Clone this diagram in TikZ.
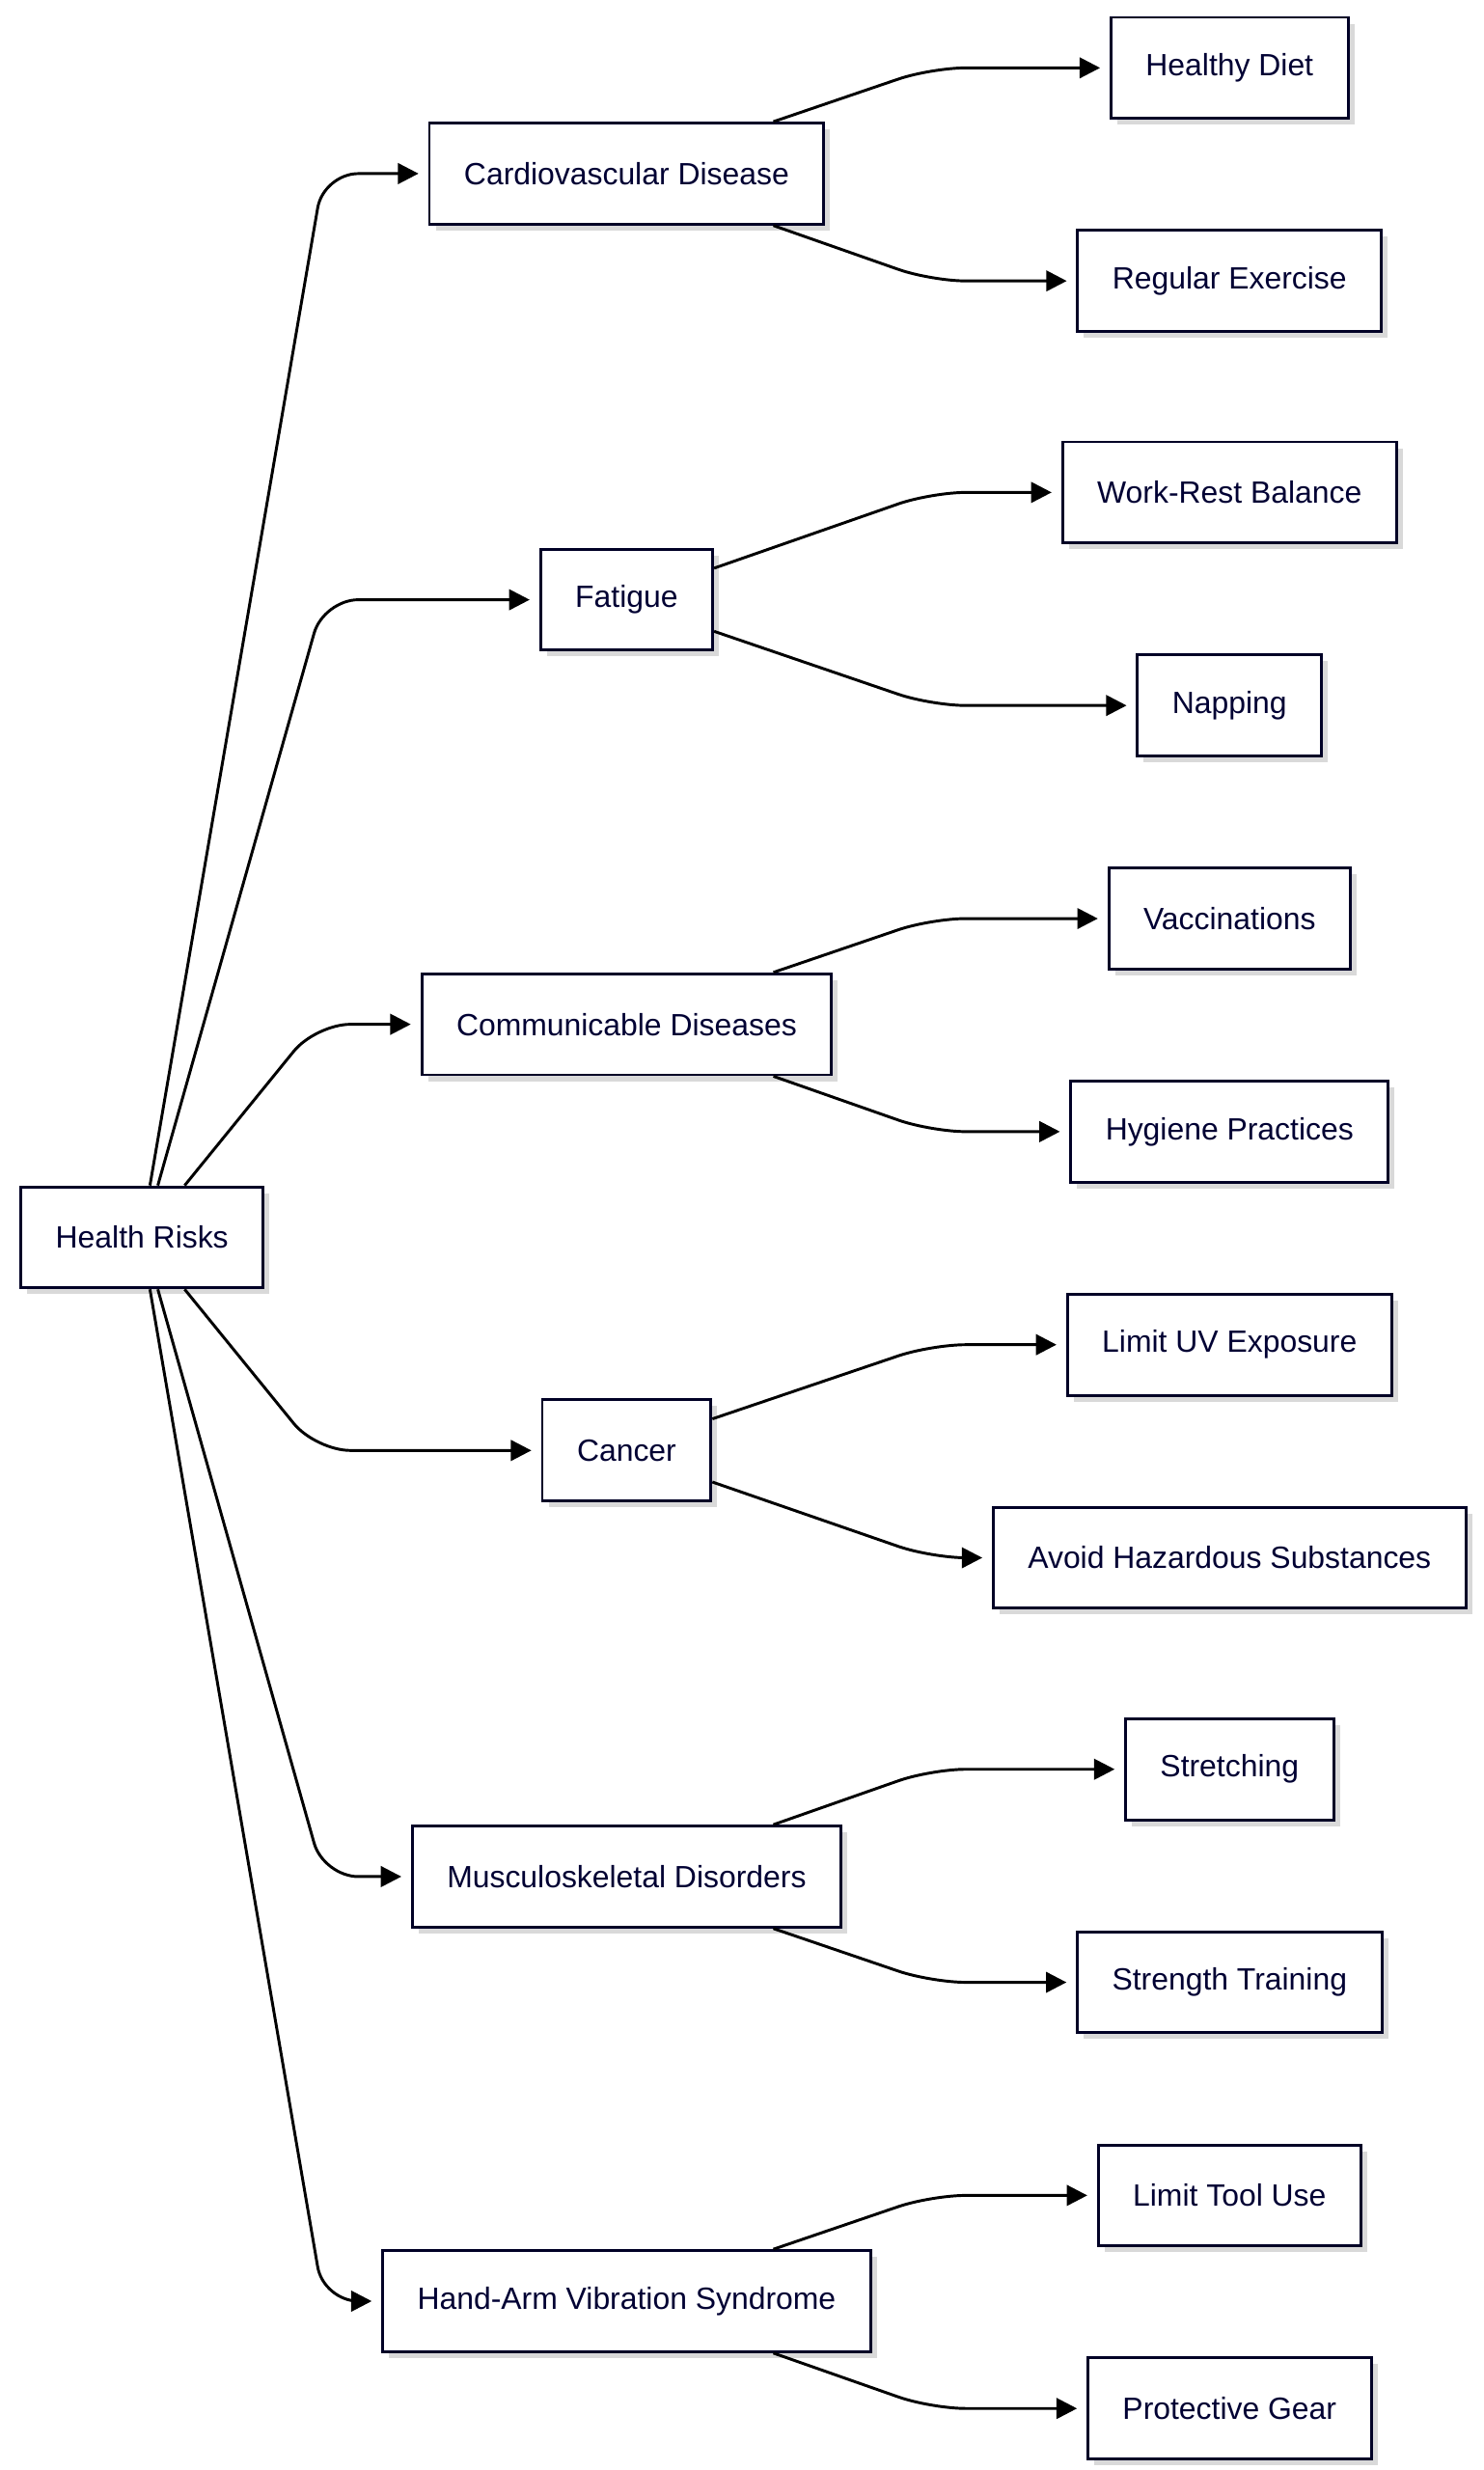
\documentclass[tikz,border=0pt]{standalone}
\usepackage{fontspec}
\setmainfont{Liberation Sans}
\usetikzlibrary{shadows,arrows.meta}
\tikzset{every picture/.style={line width=1.8pt}}
\tikzset{
  box/.style={draw=black!85!blue, fill=white, minimum height=64, inner xsep=22,
    font=\fontsize{19.5}{23}\selectfont, text=black!80!blue,
    drop shadow={shadow xshift=4pt, shadow yshift=-4pt, fill=black!15, opacity=1}},
  link/.style={-{Triangle[length=13pt,width=13pt]}, rounded corners=22pt}
}
\begin{document}
\begin{tikzpicture}[x=1pt,y=1pt,yscale=-1,xscale=1]
\useasboundingbox (0,0) rectangle (940,1565);

% Nodes
\node[box] (hr) at (90,784) {Health Risks};
\node[box] (cvd) at (397,110) {Cardiovascular Disease};
\node[box] (fat) at (397,380) {Fatigue};
\node[box] (com) at (397,649) {Communicable Diseases};
\node[box] (can) at (397,919) {Cancer};
\node[box] (msd) at (397,1189) {Musculoskeletal Disorders};
\node[box] (hav) at (397,1458) {Hand-Arm Vibration Syndrome};

\node[box] (diet) at (779,43) {Healthy Diet};
\node[box] (exer) at (779,178) {Regular Exercise};
\node[box] (work) at (779,312) {Work-Rest Balance};
\node[box] (nap) at (779,447) {Napping};
\node[box] (vac) at (779,582) {Vaccinations};
\node[box] (hyg) at (779,717) {Hygiene Practices};
\node[box] (uv) at (779,852) {Limit UV Exposure};
\node[box] (haz) at (779,987) {Avoid Hazardous Substances};
\node[box] (str) at (779,1121) {Stretching};
\node[box] (stt) at (779,1256) {Strength Training};
\node[box] (tool) at (779,1391) {Limit Tool Use};
\node[box] (gear) at (779,1526) {Protective Gear};

% Health Risks to risks
\draw[link] ([xshift=5]hr.north) -- (205,110) -- ([xshift=-6]cvd.west);
\draw[link] ([xshift=10]hr.north) -- (205,380) -- ([xshift=-6]fat.west);
\draw[link] ([xshift=27]hr.north) -- (200,649) -- ([xshift=-6]com.west);
\draw[link] ([xshift=27]hr.south) -- (200,919) -- ([xshift=-6]can.west);
\draw[link] ([xshift=10]hr.south) -- (205,1189) -- ([xshift=-6]msd.west);
\draw[link] ([xshift=5]hr.south) -- (205,1458) -- ([xshift=-6]hav.west);

% risks to measures
\draw[link] ([xshift=93]cvd.north) -- (590,43) -- ([xshift=-6]diet.west);
\draw[link] ([xshift=93]cvd.south) -- (590,178) -- ([xshift=-6]exer.west);
\draw[link] ([yshift=-20]fat.east) -- (590,312) -- ([xshift=-6]work.west);
\draw[link] ([yshift=20]fat.east) -- (590,447) -- ([xshift=-6]nap.west);
\draw[link] ([xshift=93]com.north) -- (590,582) -- ([xshift=-6]vac.west);
\draw[link] ([xshift=93]com.south) -- (590,717) -- ([xshift=-6]hyg.west);
\draw[link] ([yshift=-20]can.east) -- (590,852) -- ([xshift=-6]uv.west);
\draw[link] ([yshift=20]can.east) -- (590,987) -- ([xshift=-6]haz.west);
\draw[link] ([xshift=93]msd.north) -- (590,1121) -- ([xshift=-6]str.west);
\draw[link] ([xshift=93]msd.south) -- (590,1256) -- ([xshift=-6]stt.west);
\draw[link] ([xshift=93]hav.north) -- (590,1391) -- ([xshift=-6]tool.west);
\draw[link] ([xshift=93]hav.south) -- (590,1526) -- ([xshift=-6]gear.west);

\end{tikzpicture}
\end{document}
